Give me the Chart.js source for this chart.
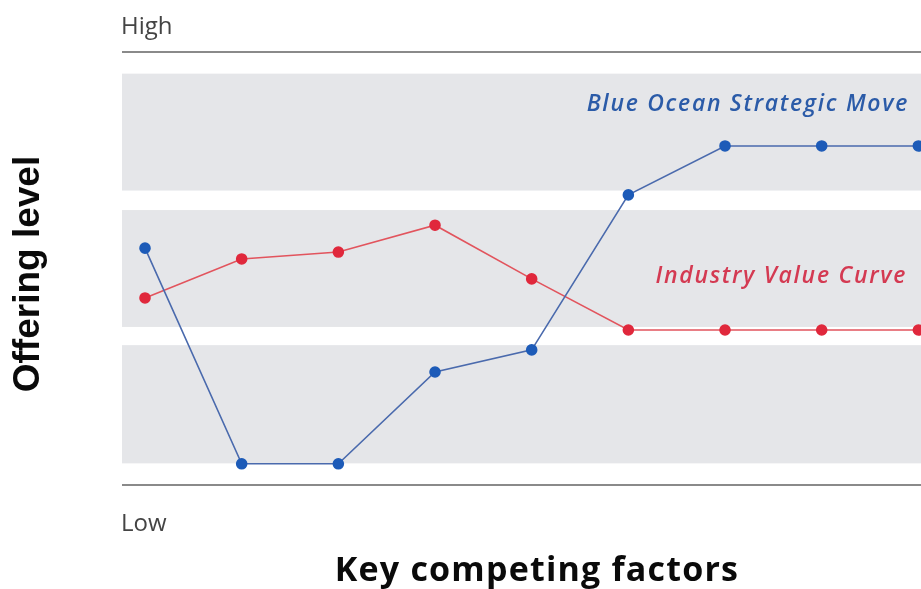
<!DOCTYPE html>
<html>
<head>
<meta charset="utf-8">
<script src="https://cdn.jsdelivr.net/npm/chart.js@4/dist/chart.umd.min.js"></script>
<style>
  html, body { margin: 0; padding: 0; background: #fff; }
  #wrap { width: 921px; height: 589px; position: relative; }
</style>
</head>
<body>
<div id="wrap"><canvas id="strategy-canvas"></canvas></div>
<script>
/* Data: offering level (0 = low, 100 = high) for each competing factor */
let factors = [1, 2, 3, 4, 5, 6, 7, 8, 9]
let blueOceanValues = [54.7, 4.9, 4.9, 26.1, 31.2, 67.0, 78.3, 78.3, 78.3]
let industryValues = [43.2, 52.2, 53.8, 60.0, 47.6, 35.8, 35.8, 35.8, 35.8]

// shaded bands behind the curves (value ranges)
let bandRanges = [[68, 95], [36.5, 63.5], [5, 32.3]]

let seriesNames = ['Blue Ocean Strategic Move', 'Industry Value Curve']
let levelLabels = ['High', 'Low']
let axisTitles = ['Offering level', 'Key competing factors']

let ctx = document.querySelector('#strategy-canvas').getContext('2d')

function toPoints(values) {
    return values.map(function (v, i) { return { x: factors[i], y: v } })
}

// plugin: gray bands + high/low rules behind the lines
let backdrop = {
    id: 'backdrop',
    beforeDatasetsDraw: function (chart) {
        let c = chart.ctx
        let area = chart.chartArea
        let ys = chart.scales.y
        c.save()
        c.fillStyle = '#e5e6e9'
        bandRanges.forEach(function (r) {
            let top = ys.getPixelForValue(r[1])
            let bottom = ys.getPixelForValue(r[0])
            c.fillRect(area.left, top, chart.width - area.left, bottom - top)
        })
        c.strokeStyle = '#8a8a8a'
        c.lineWidth = 2
        ;[ys.max, ys.min].forEach(function (v) {
            let y = Math.round(ys.getPixelForValue(v))
            c.beginPath()
            c.moveTo(area.left, y)
            c.lineTo(chart.width, y)
            c.stroke()
        })
        c.restore()
    }
}

// plugin: all the text labels
let labels = {
    id: 'labels',
    afterDraw: function (chart) {
        let c = chart.ctx
        let area = chart.chartArea
        let ys = chart.scales.y
        c.save()
        c.textBaseline = 'middle'
        c.textAlign = 'left'
        c.fillStyle = '#444'
        c.font = '24px "Open Sans"'
        c.fillText(levelLabels[0], area.left - 1, ys.getPixelForValue(ys.max) - 25)
        c.fillText(levelLabels[1], area.left - 1, ys.getPixelForValue(ys.min) + 39)

        // curve names
        c.textAlign = 'right'
        c.letterSpacing = '1.7px'
        c.font = 'italic 600 23px "Open Sans"'
        c.fillStyle = '#2b5ba8'
        c.fillText(seriesNames[0], 909, ys.getPixelForValue(88))
        c.fillStyle = '#d43a52'
        c.fillText(seriesNames[1], 907, ys.getPixelForValue(48.2))

        // axis titles
        c.fillStyle = '#0a0a0a'
        c.textAlign = 'center'
        c.letterSpacing = '1.2px'
        c.font = 'bold 34px "Open Sans"'
        c.fillText(axisTitles[1], 537, 571)

        c.letterSpacing = '0px'
        c.save()
        c.translate(29, 274)
        c.rotate(-Math.PI / 2)
        c.font = 'bold 37px "Liberation Sans"'
        c.fillText(axisTitles[0], 0, 0)
        c.restore()
        c.restore()
    }
}

let chart = new Chart(ctx, {
    type: 'line',
    data: {
        datasets: [
            {
                label: seriesNames[0],
                data: toPoints(blueOceanValues),
                borderColor: '#4a6aad',
                borderWidth: 1.6,
                pointBackgroundColor: '#1d5bb8',
                pointBorderColor: '#1d5bb8',
                pointRadius: 5,
                clip: false,
                tension: 0
            },
            {
                label: seriesNames[1],
                data: toPoints(industryValues),
                borderColor: '#e2545d',
                borderWidth: 1.6,
                pointBackgroundColor: '#e0283c',
                pointBorderColor: '#e0283c',
                pointRadius: 5,
                clip: false,
                tension: 0
            }
        ]
    },
    options: {
        responsive: true,
        maintainAspectRatio: false,
        animation: false,
        layout: { padding: { left: 122, top: 52, right: 0, bottom: 104 } },
        plugins: { legend: { display: false }, tooltip: { enabled: false } },
        scales: {
            x: { type: 'linear', min: 0.762, max: 8.959, display: false },
            y: { type: 'linear', min: 0, max: 100, display: false }
        }
    },
    plugins: [backdrop, labels]
})
</script>
</body>
</html>
